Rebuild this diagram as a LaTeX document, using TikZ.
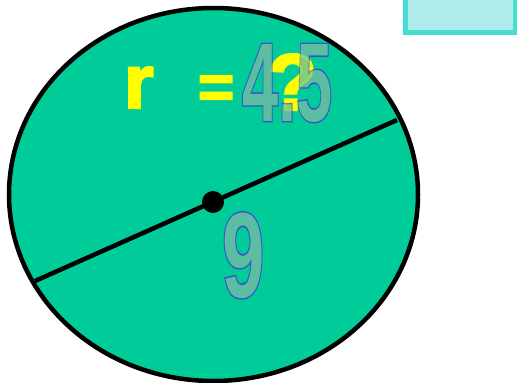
\documentclass[tikz,border=0pt]{standalone}
\usepackage{fontspec}
\setmainfont{Liberation Sans}
\newfontfamily\heavyfont[FakeBold=3]{Liberation Sans Bold}
\newfontfamily\rimfont[FakeBold=2.5]{Liberation Sans Bold}
\usetikzlibrary{shapes.geometric}
\definecolor{disc}{RGB}{0,204,153}
\definecolor{numfill}{RGB}{92,190,160}
\definecolor{numline}{RGB}{60,80,205}
\definecolor{ylw}{RGB}{255,255,0}
\definecolor{boxfill}{RGB}{175,236,236}
\definecolor{boxline}{RGB}{70,222,208}
\tikzset{
  lbl/.style={inner sep=0pt, outer sep=0pt, anchor=base west},
  bignum/.style={lbl, font=\bfseries\fontsize{112}{112}\selectfont},
  bigrim/.style={lbl, text=numline, font=\rimfont\fontsize{112}{112}\selectfont},
  ninenum/.style={lbl, font=\bfseries\fontsize{121}{121}\selectfont},
  ninerim/.style={lbl, text=numline, font=\rimfont\fontsize{121}{121}\selectfont},
  yl/.style={lbl, text=ylw, font=\heavyfont\fontsize{76}{76}\selectfont},
}
\begin{document}
\begin{tikzpicture}[x=1pt,y=-1pt]
\useasboundingbox (0,0) rectangle (517,383);
% disc
\node[ellipse, draw=black, fill=disc, line width=4.5pt, minimum width=409pt, minimum height=373pt, inner sep=0pt] (disc) at (213.5,194.5) {};
% diameter
\coordinate (L) at (35,281);
\coordinate (R) at (397,120);
\draw[line width=4.5pt] (L) -- (R);
\node[circle, fill=black, minimum size=22pt, inner sep=0pt] (o) at (213,202) {};
% r = ?
\node[yl] (r) at (124,108) {r};
\node[yl, font=\heavyfont\fontsize{62}{62}\selectfont] (eq) at (198,108) {=};
\node[yl, font=\heavyfont\fontsize{80}{80}\selectfont] (q) at (268,110) {?};
% 4.5 outlined
\node[bigrim] (farim) at (242,121) {\scalebox{0.58}[1]{4.5}};
\node[bignum, text=numfill] (fa) at (242,121) {\scalebox{0.58}[1]{4.5}};
\node[yl, font=\heavyfont\fontsize{80}{80}\selectfont, opacity=0.25] (q2) at (268,110) {?};
% 9 outlined
\node[ninerim] (nnrim) at (222,297) {\scalebox{0.63}[1]{9}};
\node[ninenum, text=numfill] (nn) at (222,297) {\scalebox{0.63}[1]{9}};
% box
\node[rectangle, draw=boxline, fill=boxfill, line width=5pt, minimum width=110pt, minimum height=50pt, inner sep=0pt, anchor=south west] (box) at (402.5,34.5) {};
\end{tikzpicture}
\end{document}
